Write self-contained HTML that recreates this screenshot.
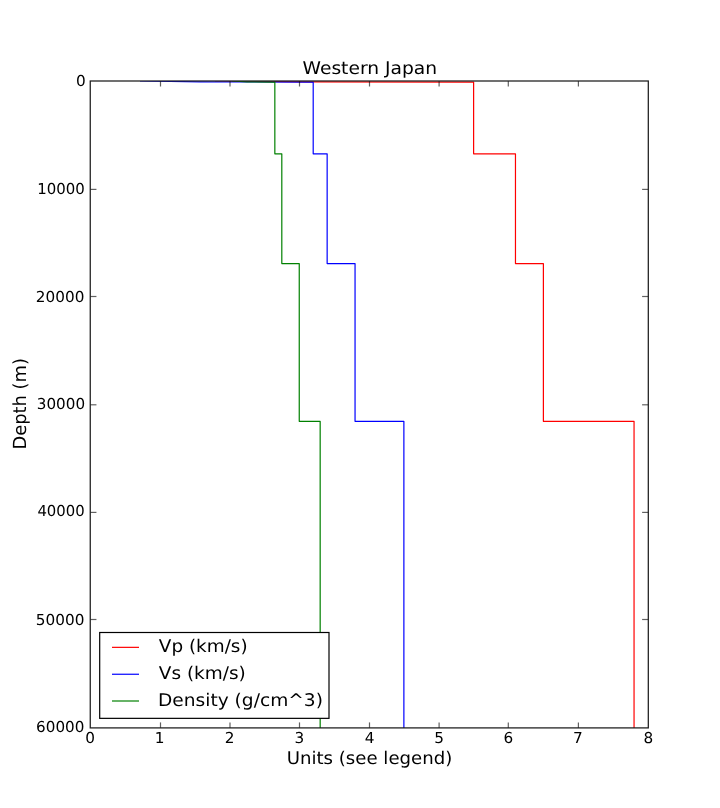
<!DOCTYPE html>
<html><head><meta charset="utf-8"><title>Western Japan</title>
<style>
html,body{margin:0;padding:0;background:#fff;}
svg{display:block;}
text{font-family:"DejaVu Sans","Liberation Sans",sans-serif;fill:#000;text-rendering:geometricPrecision;}
</style></head><body>
<svg width="720" height="808" viewBox="0 0 720 808">
<rect x="0" y="0" width="720" height="808" fill="#ffffff"/>
<clipPath id="c"><rect x="90.25" y="81.0" width="558.05" height="646.9"/></clipPath>
<g clip-path="url(#c)" fill="none" stroke-width="1.2" stroke-linejoin="round">
<polyline points="215.00,81.00 305.52,81.85 473.62,82.15 473.62,153.80 515.47,153.80 515.47,263.60 543.38,263.60 543.38,421.30 634.05,421.30 634.05,727.90" stroke="#ff0000"/>
<polyline points="140.00,81.00 200.62,81.85 313.20,82.15 313.20,153.80 327.15,153.80 327.15,263.60 355.05,263.60 355.05,421.30 403.88,421.30 403.88,727.90" stroke="#0000ff"/>
<polyline points="232.00,81.00 246.99,81.85 274.84,82.15 274.84,153.80 281.81,153.80 281.81,263.60 299.25,263.60 299.25,421.30 320.17,421.30 320.17,727.90" stroke="#008000"/>
</g>

<g stroke="#000" stroke-width="1.2" stroke-opacity="0.62" fill="none">
<line x1="160.50" y1="727.9" x2="160.50" y2="722.4"/>
<line x1="160.50" y1="81.0" x2="160.50" y2="86.5"/>
<line x1="230.00" y1="727.9" x2="230.00" y2="722.4"/>
<line x1="230.00" y1="81.0" x2="230.00" y2="86.5"/>
<line x1="299.50" y1="727.9" x2="299.50" y2="722.4"/>
<line x1="299.50" y1="81.0" x2="299.50" y2="86.5"/>
<line x1="369.50" y1="727.9" x2="369.50" y2="722.4"/>
<line x1="369.50" y1="81.0" x2="369.50" y2="86.5"/>
<line x1="439.10" y1="727.9" x2="439.10" y2="722.4"/>
<line x1="439.10" y1="81.0" x2="439.10" y2="86.5"/>
<line x1="508.30" y1="727.9" x2="508.30" y2="722.4"/>
<line x1="508.30" y1="81.0" x2="508.30" y2="86.5"/>
<line x1="578.40" y1="727.9" x2="578.40" y2="722.4"/>
<line x1="578.40" y1="81.0" x2="578.40" y2="86.5"/>
<line x1="90.25" y1="189.40" x2="96.45" y2="189.40"/>
<line x1="648.3" y1="189.40" x2="642.0999999999999" y2="189.40"/>
<line x1="90.25" y1="296.50" x2="96.45" y2="296.50"/>
<line x1="648.3" y1="296.50" x2="642.0999999999999" y2="296.50"/>
<line x1="90.25" y1="404.80" x2="96.45" y2="404.80"/>
<line x1="648.3" y1="404.80" x2="642.0999999999999" y2="404.80"/>
<line x1="90.25" y1="512.40" x2="96.45" y2="512.40"/>
<line x1="648.3" y1="512.40" x2="642.0999999999999" y2="512.40"/>
<line x1="90.25" y1="619.50" x2="96.45" y2="619.50"/>
<line x1="648.3" y1="619.50" x2="642.0999999999999" y2="619.50"/>
</g>
<rect x="90.25" y="81.0" width="558.05" height="646.9" fill="none" stroke="#1c1c1c" stroke-width="1.25"/>
<text x="85.24" y="743.40" font-size="15" textLength="9.73" lengthAdjust="spacingAndGlyphs">0</text>
<text x="154.75" y="743.40" font-size="15" textLength="9.73" lengthAdjust="spacingAndGlyphs">1</text>
<text x="224.84" y="743.40" font-size="15" textLength="9.73" lengthAdjust="spacingAndGlyphs">2</text>
<text x="294.41" y="743.40" font-size="15" textLength="9.73" lengthAdjust="spacingAndGlyphs">3</text>
<text x="364.79" y="743.40" font-size="15" textLength="9.73" lengthAdjust="spacingAndGlyphs">4</text>
<text x="434.36" y="743.40" font-size="15" textLength="9.73" lengthAdjust="spacingAndGlyphs">5</text>
<text x="503.48" y="743.40" font-size="15" textLength="9.73" lengthAdjust="spacingAndGlyphs">6</text>
<text x="572.91" y="743.40" font-size="15" textLength="9.73" lengthAdjust="spacingAndGlyphs">7</text>
<text x="643.44" y="743.40" font-size="15" textLength="9.73" lengthAdjust="spacingAndGlyphs">8</text>
<text x="76.03" y="85.60" font-size="15" textLength="9.73" lengthAdjust="spacingAndGlyphs">0</text>
<text x="37.26" y="193.90" font-size="15" textLength="47.59" lengthAdjust="spacingAndGlyphs">10000</text>
<text x="35.83" y="301.85" font-size="15" textLength="48.53" lengthAdjust="spacingAndGlyphs">20000</text>
<text x="36.79" y="409.00" font-size="15" textLength="48.26" lengthAdjust="spacingAndGlyphs">30000</text>
<text x="37.42" y="516.00" font-size="15" textLength="47.31" lengthAdjust="spacingAndGlyphs">40000</text>
<text x="35.77" y="624.60" font-size="15" textLength="48.59" lengthAdjust="spacingAndGlyphs">50000</text>
<text x="36.09" y="731.65" font-size="15" textLength="48.27" lengthAdjust="spacingAndGlyphs">60000</text>
<text x="302.54" y="74.00" font-size="17.5" textLength="134.58" lengthAdjust="spacingAndGlyphs">Western Japan</text>
<text x="286.67" y="764.10" font-size="17.5" textLength="165.63" lengthAdjust="spacingAndGlyphs">Units (see legend)</text>
<text x="-449.61" y="26.10" font-size="18" textLength="91.54" lengthAdjust="spacingAndGlyphs" transform="rotate(-90)">Depth (m)</text>
<rect x="99.7" y="632.5" width="229.3" height="85.85" fill="#fff" stroke="#000" stroke-width="1.2"/>
<line x1="112.0" y1="647.35" x2="139.0" y2="647.35" stroke="#ff0000" stroke-width="1.2"/>
<text x="158.81" y="652.25" font-size="17.5" textLength="88.82" lengthAdjust="spacingAndGlyphs">Vp (km/s)</text>
<line x1="112.0" y1="674.25" x2="139.0" y2="674.25" stroke="#0000ff" stroke-width="1.2"/>
<text x="158.81" y="679.25" font-size="17.5" textLength="87.03" lengthAdjust="spacingAndGlyphs">Vs (km/s)</text>
<line x1="112.0" y1="701.0" x2="139.0" y2="701.0" stroke="#008000" stroke-width="1.2"/>
<text x="158.03" y="705.80" font-size="17.5" textLength="164.92" lengthAdjust="spacingAndGlyphs">Density (g/cm^3)</text>
</svg>
</body></html>
